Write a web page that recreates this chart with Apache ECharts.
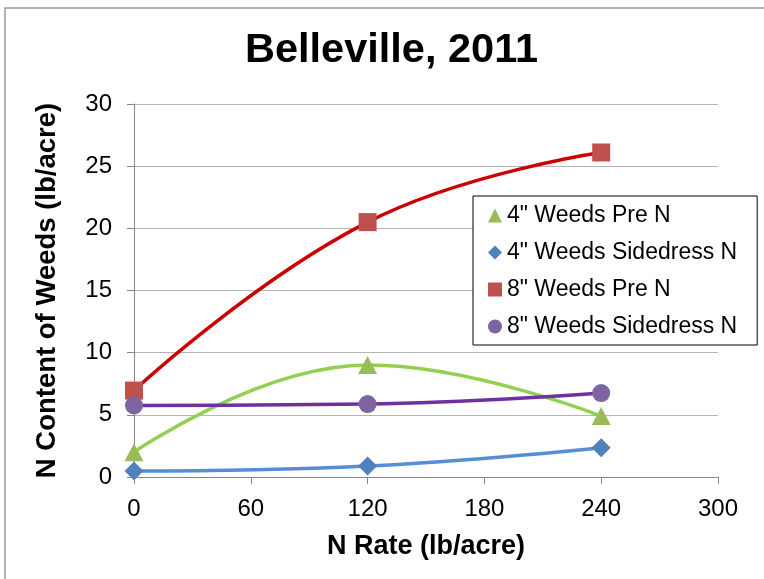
<!DOCTYPE html>
<html>
<head>
<meta charset="utf-8">
<script src="https://cdn.jsdelivr.net/npm/echarts@6/dist/echarts.min.js"></script>
<style>
html,body{margin:0;padding:0;background:#fff;}
#c{width:764px;height:579px;}
</style>
</head>
<body>
<div id="c"></div>
<script>
// N rate (lb/acre)
const nRates = [0, 120, 240];
const seriesNames = ['4" Weeds Pre N', '4" Weeds Sidedress N', '8" Weeds Pre N', '8" Weeds Sidedress N'];
const weeds4Pre = [2.0, 9.0, 4.9];
const weeds4Side = [0.48, 0.88, 2.36];
const weeds8Pre = [6.95, 20.5, 26.1];
const weeds8Side = [5.76, 5.87, 6.75];
const xTicks = [0, 60, 120, 180, 240, 300];
const yTicks = [0, 5, 10, 15, 20, 25, 30];

const FONT = '"Liberation Sans", Arial, sans-serif';
const chart = echarts.init(document.getElementById('c'), null, {renderer: 'canvas'});

function pairs(vals) { return nRates.map((x, i) => [x, vals[i]]); }

function mk(name, vals, symbol, size, markerColor, lineColor) {
  return {
    name: name,
    type: 'line',
    data: pairs(vals),
    smooth: 0.45,
    symbol: symbol,
    symbolSize: size,
    showSymbol: true,
    itemStyle: {color: markerColor, opacity: 1},
    lineStyle: {color: lineColor, width: 3.5},
    emphasis: {disabled: true},
    z: 3
  };
}

chart.setOption({
  animation: false,
  backgroundColor: '#fff',
  title: {
    text: 'Belleville, 2011',
    left: 240,
    top: 25,
    textStyle: {fontFamily: FONT, fontSize: 41.5, fontWeight: 'bold', color: '#000'}
  },
  graphic: [{
    type: 'rect',
    shape: {x: 5, y: 8, width: 900, height: 700},
    style: {fill: 'none', stroke: '#9a9a9a', lineWidth: 1.5},
    silent: true,
    z: -1
  }],
  grid: {left: 134, right: 46, top: 104, bottom: 102},
  legend: {
    orient: 'vertical',
    left: 473,
    top: 196,
    padding: [8, 20, 7, 15],
    itemGap: 14,
    itemWidth: 14,
    itemHeight: 14,
    itemTextGap: 5,
    borderColor: '#000',
    borderWidth: 1,
    backgroundColor: '#fff',
    textStyle: {fontFamily: FONT, fontSize: 23, color: '#000'},
    data: [
      {name: seriesNames[0], icon: 'triangle'},
      {name: seriesNames[1], icon: 'diamond'},
      {name: seriesNames[2], icon: 'rect'},
      {name: seriesNames[3], icon: 'circle'}
    ]
  },
  xAxis: {
    type: 'value',
    min: xTicks[0],
    max: xTicks[xTicks.length - 1],
    interval: xTicks[1] - xTicks[0],
    name: 'N Rate (lb/acre)',
    nameLocation: 'middle',
    nameGap: 56,
    nameTextStyle: {fontFamily: FONT, fontSize: 27, fontWeight: 'bold', color: '#000'},
    axisLine: {lineStyle: {color: '#868686', width: 1}},
    axisTick: {show: true, length: 7, inside: false, lineStyle: {color: '#868686'}},
    axisLabel: {fontFamily: FONT, fontSize: 24, color: '#000', margin: 20},
    splitLine: {show: false}
  },
  yAxis: {
    type: 'value',
    min: yTicks[0],
    max: yTicks[yTicks.length - 1],
    interval: yTicks[1] - yTicks[0],
    name: 'N Content of Weeds (lb/acre)',
    nameLocation: 'middle',
    nameGap: 73,
    nameTextStyle: {fontFamily: FONT, fontSize: 27.5, fontWeight: 'bold', color: '#000'},
    axisLine: {show: true, lineStyle: {color: '#868686', width: 1}},
    axisTick: {show: true, length: 7, lineStyle: {color: '#868686'}},
    axisLabel: {fontFamily: FONT, fontSize: 24, color: '#000', margin: 22},
    splitLine: {show: true, lineStyle: {color: '#b5b5b5', width: 1}}
  },
  series: [
    mk(seriesNames[0], weeds4Pre, 'triangle', [19, 18], '#9BBB59', '#92D050'),
    mk(seriesNames[1], weeds4Side, 'diamond', [19, 19], '#4F81BD', '#558ED5'),
    mk(seriesNames[2], weeds8Pre, 'rect', [18, 18], '#C0504D', '#CC0000'),
    mk(seriesNames[3], weeds8Side, 'circle', 18, '#8064A2', '#7030A0')
  ]
});
</script>
</body>
</html>
